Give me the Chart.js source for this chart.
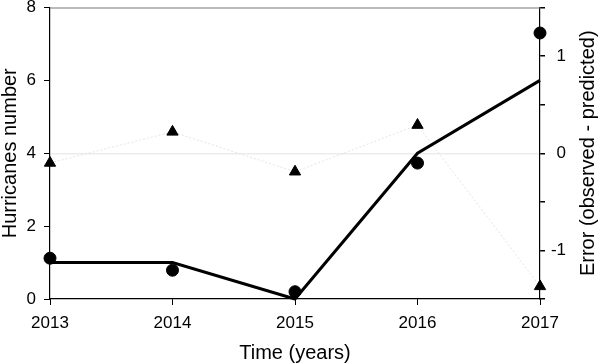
<!DOCTYPE html>
<html>
<head>
<meta charset="utf-8">
<script src="https://cdn.jsdelivr.net/npm/chart.js@4.4.0/dist/chart.umd.min.js"></script>
<style>
  html, body { margin: 0; padding: 0; background: #fff; }
  #wrap { width: 600px; height: 364px; position: relative; }
</style>
</head>
<body>
<div id="wrap"><canvas id="hurChart"></canvas></div>
<script>
// annees
const years = ['2013', '2014', '2015', '2016', '2017'];
// nombre predit (ligne)
const predicted = [1, 1, 0, 4, 6];
// nombre observe (cercles)
const observed = [1.12, 0.79, 0.2, 3.73, 7.3];
// erreur observe - predit (triangles, axe de droite)
const errors = [-0.1, 0.22, -0.19, 0.29, -1.37];
// graduations
const leftTicks = [0, 8, 2];
const rightTicks = [-1.5, 1.5, 0.5];

const FONT = "'Liberation Sans', Arial, sans-serif";

// titre de l'axe de droite (lu de bas en haut) + cadre du haut
const rightTitle = {
  id: 'rightTitle',
  afterDraw(chart) {
    const ctx = chart.ctx;
    const area = chart.chartArea;
    ctx.save();
    // ligne grise du haut
    ctx.strokeStyle = '#777';
    ctx.lineWidth = 1.2;
    ctx.beginPath();
    ctx.moveTo(area.left, area.top + 0.5);
    ctx.lineTo(area.right, area.top + 0.5);
    ctx.stroke();
    ctx.translate(588, (area.top + area.bottom) / 2);
    ctx.rotate(-Math.PI / 2);
    ctx.font = '20px ' + FONT;
    ctx.fillStyle = '#000';
    ctx.textAlign = 'center';
    ctx.textBaseline = 'middle';
    ctx.fillText('Error (observed - predicted)', 0, 0);
    ctx.restore();
  }
};

// pas de marge auto pour les etiquettes
function noPad(scale) {
  scale.paddingTop = 0;
  scale.paddingBottom = 0;
  scale.paddingLeft = 0;
  scale.paddingRight = 0;
}

const ctx = document.getElementById('hurChart').getContext('2d');
new Chart(ctx, {
  type: 'line',
  data: {
    labels: years,
    datasets: [
      {
        label: 'Predicted',
        data: predicted,
        yAxisID: 'y',
        borderColor: '#000',
        borderWidth: 3,
        pointRadius: 0,
        tension: 0,
        clip: false
      },
      {
        label: 'Observed',
        data: observed,
        yAxisID: 'y',
        showLine: false,
        pointStyle: 'circle',
        pointRadius: 6,
        pointBackgroundColor: '#000',
        pointBorderColor: '#000',
        clip: false
      },
      {
        label: 'Error',
        data: errors,
        yAxisID: 'y2',
        showLine: true,
        borderColor: '#e4e4e4',
        borderWidth: 1,
        borderDash: [2, 2],
        pointStyle: 'triangle',
        pointRadius: 6.5,
        pointBackgroundColor: '#000',
        pointBorderColor: '#000',
        clip: false
      }
    ]
  },
  options: {
    responsive: true,
    maintainAspectRatio: false,
    animation: false,
    layout: { padding: { top: 7, right: 34, left: 0, bottom: 0 } },
    plugins: {
      legend: { display: false },
      tooltip: { enabled: false }
    },
    scales: {
      x: {
        offset: false,
        grid: { drawOnChartArea: false, tickLength: 6, tickColor: '#000' },
        border: { color: '#000', width: 1.2 },
        ticks: { color: '#000', font: { family: FONT, size: 17 }, padding: 8, maxRotation: 0 },
        title: { display: true, text: 'Time (years)', color: '#000', font: { family: FONT, size: 20 }, padding: { top: 0, bottom: -1 } },
        afterFit(scale) { scale.height = 65; noPad(scale); }
      },
      y: {
        position: 'left',
        min: leftTicks[0],
        max: leftTicks[1],
        ticks: { stepSize: leftTicks[2], color: '#000', font: { family: FONT, size: 17 }, padding: 8 },
        grid: { drawOnChartArea: false, tickLength: 6, tickColor: '#000' },
        border: { color: '#000', width: 1.2 },
        title: { display: true, text: 'Hurricanes number', color: '#000', font: { family: FONT, size: 20 }, padding: { top: -2, bottom: 0 } },
        afterFit(scale) { scale.width = 50; noPad(scale); }
      },
      y2: {
        position: 'right',
        min: rightTicks[0],
        max: rightTicks[1],
        ticks: {
          stepSize: rightTicks[2],
          color: '#000',
          font: { family: FONT, size: 17 },
          padding: 8,
          crossAlign: 'far',
          callback: v => Number.isInteger(v) ? String(v) : ''
        },
        grid: {
          drawOnChartArea: true,
          tickLength: 5,
          tickColor: '#000',
          color: c => (c.tick && Math.abs(c.tick.value) < 1e-9) ? '#ececec' : 'rgba(0,0,0,0)',
          lineWidth: 1.5
        },
        border: { color: '#000', width: 1.2 },
        afterFit(scale) { scale.width = 26; noPad(scale); }
      }
    }
  },
  plugins: [rightTitle]
});
</script>
</body>
</html>
